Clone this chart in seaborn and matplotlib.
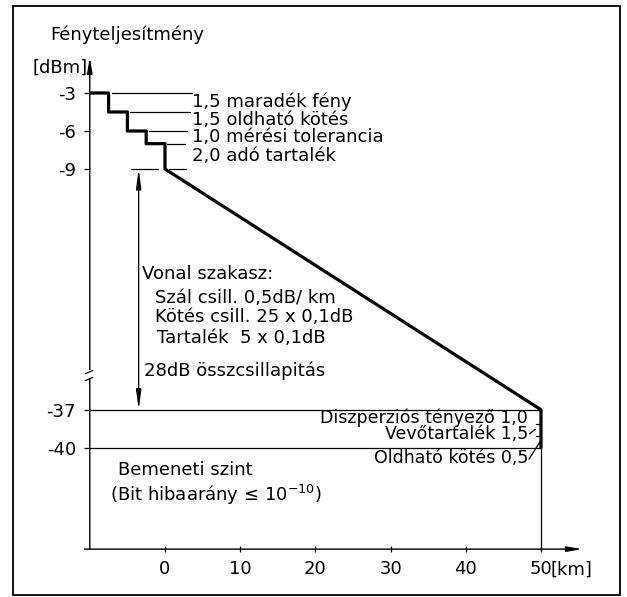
import numpy as np
import pandas as pd
import matplotlib
matplotlib.use('Agg')
import matplotlib.pyplot as plt
from matplotlib.patches import Rectangle
import seaborn as sns

# lepcsos szintek (dBm) es a lepcsok helye (km)
levels = [-3, -4.5, -6, -7, -9]
step_km = [-7.5, -5, -2.5, 0]
line_end_km = 50
end_levels = [-37, -40]          # vonal vege, bemeneti szint
axis_level = -48                 # x tengely magassaga

top_labels = ['1,5 maradék fény', '1,5 oldható kötés',
              '1,0 mérési tolerancia', '2,0 adó tartalék']
right_labels = ['Diszperziós tényező 1,0', 'Vevőtartalék 1,5', 'Oldható kötés 0,5']
x_ticks = [0, 10, 20, 30, 40, 50]
y_ticks = [-3, -6, -9, -37, -40]

# szakadt y tengely
B, G = -26.5, 9.0
def fwd(y):
    y = np.asarray(y, float)
    return np.where(y >= B, y, np.minimum(y + G, B))
def inv(c):
    c = np.asarray(c, float)
    return np.where(c >= B, c, c - G)

sns.set_theme(style='white')
plt.rcParams['font.family'] = ['DejaVu Sans']
plt.rcParams['font.size'] = 13
plt.rcParams['text.color'] = 'black'

fig = plt.figure(figsize=(6.27, 5.97), dpi=100)
ax = fig.add_axes([0.1432, 0.0802, 0.7916, 0.8171])
ax.set_yscale('function', functions=(fwd, inv))

# vastag vonal
px = [-10]
py = [levels[0]]
for i, sx in enumerate(step_km):
    px += [sx, sx]
    py += [levels[i], levels[i + 1]]
px += [line_end_km, line_end_km]
py += end_levels
df = pd.DataFrame({'km': px, 'dbm': py})
sns.lineplot(data=df, x='km', y='dbm', sort=False, estimator=None,
             color='black', lw=2.3, ax=ax)

thin = dict(color='black', lw=0.9)
# -37 es -40 vonalak, 50 km fuggoleges
for lv in end_levels:
    ax.plot([-10, line_end_km], [lv, lv], **thin)
ax.plot([line_end_km, line_end_km], [end_levels[1], axis_level], **thin)

# vezetovonalak a felso feliratokhoz
lead_x0 = [-7.1, -4.7, -2.1, 0.3, 0.5]
lead_x1 = [3.6, 3.3, 2.9, 2.7, 2.8]
for lv, a, b in zip(levels, lead_x0, lead_x1):
    ax.plot([a, b], [lv, lv], **thin)
top_y = [-3.7, -5.1, -6.5, -8.0]
for t, yy in zip(top_labels, top_y):
    ax.text(3.55, yy, t, ha='left', va='center')

# meretnyil -9 ... -37
ax.plot([-4.5, -0.9], [-9, -9], **thin)
ax.annotate('', xy=(-3.5, -37), xytext=(-3.5, -9),
            arrowprops=dict(arrowstyle='<|-|>,head_length=0.9,head_width=0.12',
                            color='black', lw=0.9, shrinkA=0, shrinkB=0))

ax.text(-3.0, -17.3, 'Vonal szakasz:', ha='left', va='center')
ax.text(-1.33, -19.2, 'Szál csill. 0,5dB/ km', ha='left', va='center')
ax.text(-1.33, -20.7, 'Kötés csill. 25 x 0,1dB', ha='left', va='center')
ax.text(-1.06, -22.3, 'Tartalék  5 x 0,1dB', ha='left', va='center')
ax.text(-2.8, -24.9, '28dB összcsillapitás', ha='left', va='center')

# jobb also feliratok
right_y = [-37.6, -38.9, -40.8]
for t, yy in zip(right_labels, right_y):
    ax.text(48.3, yy, t, ha='right', va='center', fontsize=12.5)
ax.plot([49.3, 49.9], [-38.1, -38.1], **thin)
ax.plot([48.5, 49.2], [-38.9, -38.55], **thin)
ax.plot([49.3, 49.9], [-39.1, -39.1], **thin)
ax.plot([48.4, 49.9], [-40.9, -39.5], **thin)

ax.text(-6.25, -41.75, 'Bemeneti szint', ha='left', va='center')
ax.text(-7.3, -43.7, '(Bit hibaarány ≤ 10$^{-10}$)', ha='left', va='center')

# tengelyek nyillal
ax.annotate('', xy=(-10, -0.2), xytext=(-10, axis_level), annotation_clip=False,
            arrowprops=dict(arrowstyle='-|>,head_length=0.7,head_width=0.12',
                            color='black', lw=1.0, shrinkA=0, shrinkB=0))
ax.annotate('', xy=(55.5, axis_level), xytext=(-10.7, axis_level),
            annotation_clip=False,
            arrowprops=dict(arrowstyle='-|>,head_length=0.7,head_width=0.12',
                            color='black', lw=1.0, shrinkA=0, shrinkB=0))
# szakadas jel
ax.plot([-10, -10], [-25.0, -25.3], color='white', lw=3, zorder=5, clip_on=False)
ax.plot([-10.6, -9.6], [-25.15, -24.9], color='black', lw=0.9, zorder=6,
        clip_on=False)
ax.plot([-10.6, -9.6], [-25.7, -25.45], color='black', lw=0.9, zorder=6,
        clip_on=False)

ax.text(-15.3, 1.58, 'Fényteljesítmény', ha='left', va='center')
ax.text(-10.3, -1.03, '[dBm]', ha='right', va='center')
ax.text(51.3, -49.6, '[km]', ha='left', va='center')

ax.set_xlim(-10, 56)
ax.set_ylim(-48, -0.5)
ax.set_xticks(x_ticks)
ax.set_xticklabels([str(v) for v in x_ticks])
ax.set_yticks(y_ticks)
ax.set_yticklabels([str(v) for v in y_ticks])
ax.set_xlabel('')
ax.set_ylabel('')
for s in ax.spines.values():
    s.set_visible(False)
ax.tick_params(axis='x', direction='inout', length=4, width=0.9, pad=6,
               labelsize=13, colors='black', bottom=True)
ax.tick_params(axis='y', direction='out', length=4, width=0.9, pad=6,
               labelsize=13, colors='black', left=True)
ax.minorticks_off()
ax.patch.set_alpha(0)

fig.add_artist(Rectangle((13 / 627, 1 - 595 / 597), 607 / 627, 589 / 597,
                         transform=fig.transFigure, fill=False,
                         edgecolor='black', lw=1.3))

fig.savefig('out.png', dpi=100)
